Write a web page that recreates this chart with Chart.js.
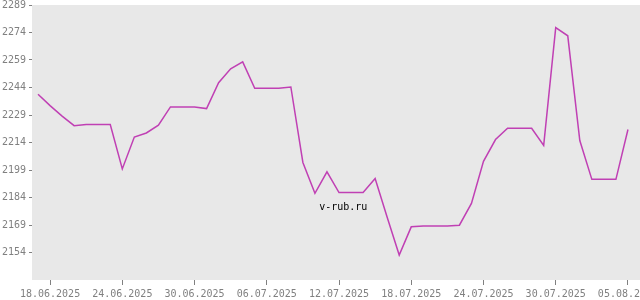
<!DOCTYPE html>
<html>
<head>
<meta charset="utf-8">
<script src="https://cdn.jsdelivr.net/npm/chart.js@4"></script>
<style>
html, body { margin: 0; padding: 0; background: #fff; }
#wrap { width: 640px; height: 300px; overflow: hidden; }
</style>
</head>
<body>
<div id="wrap"><canvas id="chart" width="700" height="300"></canvas></div>
<script>
const dates = [
    '17.06.2025', '18.06.2025', '19.06.2025', '20.06.2025', '21.06.2025', '22.06.2025', '23.06.2025',
    '24.06.2025', '25.06.2025', '26.06.2025', '27.06.2025', '28.06.2025', '29.06.2025', '30.06.2025',
    '01.07.2025', '02.07.2025', '03.07.2025', '04.07.2025', '05.07.2025', '06.07.2025', '07.07.2025',
    '08.07.2025', '09.07.2025', '10.07.2025', '11.07.2025', '12.07.2025', '13.07.2025', '14.07.2025',
    '15.07.2025', '16.07.2025', '17.07.2025', '18.07.2025', '19.07.2025', '20.07.2025', '21.07.2025',
    '22.07.2025', '23.07.2025', '24.07.2025', '25.07.2025', '26.07.2025', '27.07.2025', '28.07.2025',
    '29.07.2025', '30.07.2025', '31.07.2025', '01.08.2025', '02.08.2025', '03.08.2025', '04.08.2025',
    '05.08.2025'
];
const rates = [
    2240.3, 2234.1, 2228.4, 2223.2, 2223.8, 2223.8, 2223.8,
    2199.6, 2217.0, 2219.2, 2223.5, 2233.4, 2233.4, 2233.4,
    2232.5, 2246.6, 2254.2, 2258.0, 2243.6, 2243.6, 2243.6,
    2244.3, 2203.1, 2186.3, 2198.0, 2186.7, 2186.7, 2186.7,
    2194.3, 2173.2, 2152.6, 2168.0, 2168.5, 2168.5, 2168.5,
    2168.9, 2180.8, 2203.7, 2215.6, 2221.8, 2221.8, 2221.8,
    2212.4, 2276.7, 2272.2, 2215.1, 2193.9, 2193.9, 2193.9,
    2221.1
];
const tickDates = ['18.06.2025', '24.06.2025', '30.06.2025', '06.07.2025', '12.07.2025',
    '18.07.2025', '24.07.2025', '30.07.2025', '05.08.2025'];
const yTicks = [2154, 2169, 2184, 2199, 2214, 2229, 2244, 2259, 2274, 2289];
const yMin = 2139;
const yMax = 2289;

Chart.defaults.font.family = '"DejaVu Sans Mono", monospace';
Chart.defaults.font.size = 10;
Chart.defaults.color = '#808080';

// grey plot background + watermark
const plotBg = {
    id: 'plotBg',
    beforeDraw(chart) {
        const a = chart.chartArea;
        const ctx = chart.ctx;
        ctx.save();
        ctx.fillStyle = '#e8e8e8';
        ctx.fillRect(a.left, a.top, a.right - a.left, a.bottom - a.top);
        ctx.restore();
    },
    afterDraw(chart) {
        const a = chart.chartArea;
        const ctx = chart.ctx;
        ctx.save();
        ctx.font = '10px "DejaVu Sans Mono", monospace';
        ctx.fillStyle = '#000';
        ctx.textAlign = 'center';
        ctx.textBaseline = 'middle';
        ctx.fillText('v-rub.ru', a.left + (a.right - a.left) * 0.512, a.top + (a.bottom - a.top) * 0.735);
        ctx.restore();
    }
};

const ctx = document.getElementById('chart').getContext('2d');
new Chart(ctx, {
    type: 'line',
    data: {
        datasets: [{
            data: rates.map((v, i) => ({ x: i, y: v })),
            borderColor: '#c040b4',
            borderWidth: 1.5,
            pointRadius: 0,
            tension: 0,
            fill: false
        }]
    },
    options: {
        responsive: false,
        animation: false,
        layout: { padding: { top: 5, right: 60, left: 0, bottom: 0 } },
        plugins: {
            legend: { display: false },
            tooltip: { enabled: false }
        },
        scales: {
            x: {
                type: 'linear',
                min: -0.5,
                max: 50,
                border: { display: false },
                grid: { drawOnChartArea: false, drawTicks: true, tickLength: 5, color: '#808080' },
                ticks: {
                    maxRotation: 0,
                    autoSkip: false,
                    padding: 3,
                    callback: (v) => dates[v]
                },
                afterBuildTicks: (s) => {
                    s.ticks = tickDates.map(d => ({ value: dates.indexOf(d) }));
                },
                afterFit: (s) => {
                    s.height = 20;
                    s.paddingLeft = 0;
                    s.paddingRight = 0;
                }
            },
            y: {
                min: yMin,
                max: yMax,
                border: { display: false },
                grid: { drawOnChartArea: false, drawTicks: true, tickLength: 3, color: '#808080' },
                ticks: { padding: 3, autoSkip: false, callback: (v) => String(v) },
                afterBuildTicks: (s) => {
                    s.ticks = yTicks.map(v => ({ value: v }));
                },
                afterFit: (s) => {
                    s.width = 32;
                    s.paddingTop = 0;
                    s.paddingBottom = 0;
                }
            }
        }
    },
    plugins: [plotBg]
});
</script>
</body>
</html>
